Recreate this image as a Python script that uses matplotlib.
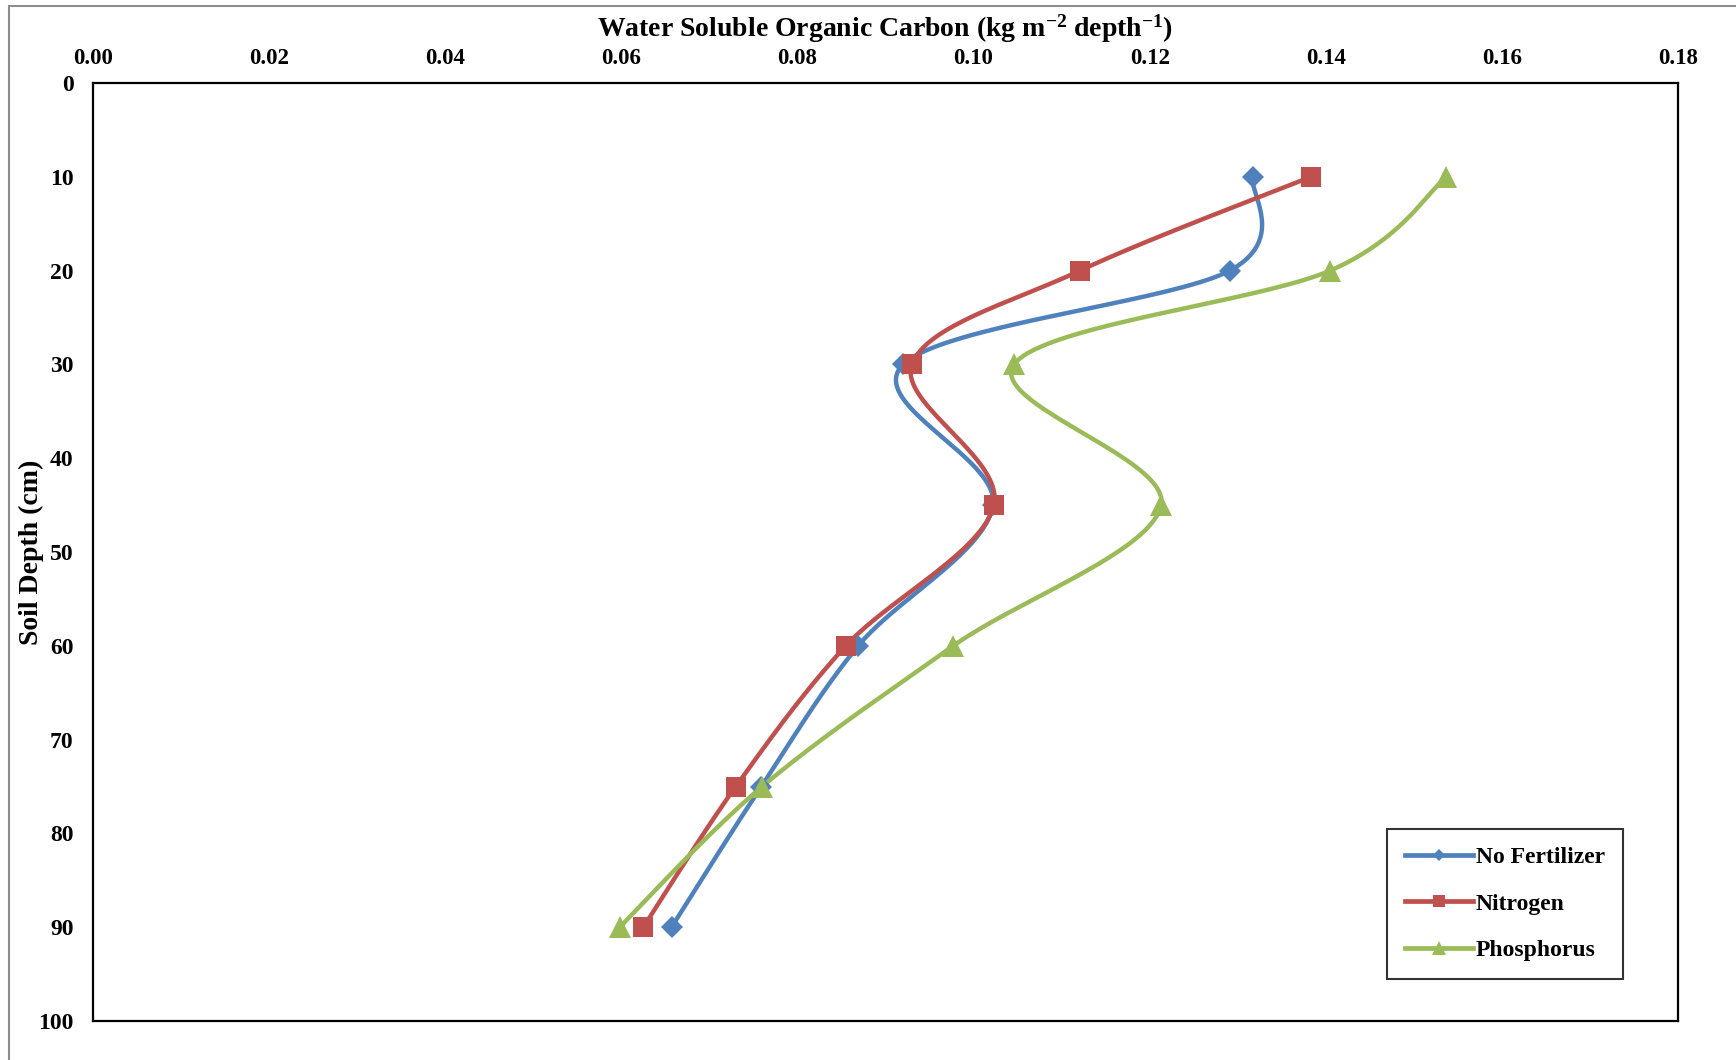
import numpy as np
import matplotlib.pyplot as plt
from matplotlib.patches import Rectangle

# Soil depth (cm) and water soluble organic carbon (kg m-2 depth-1)
depth = [10, 20, 30, 45, 60, 75, 90]
no_fertilizer = [0.1317, 0.1291, 0.0920, 0.1022, 0.0869, 0.0759, 0.0657]
nitrogen = [0.1383, 0.1121, 0.0930, 0.1023, 0.0855, 0.0730, 0.0625]
phosphorus = [0.1537, 0.1405, 0.1046, 0.1213, 0.0977, 0.0760, 0.0598]

x_ticks = np.arange(0, 0.181, 0.02)
y_ticks = np.arange(0, 101, 10)

plt.rcParams['font.family'] = ['Liberation Serif', 'DejaVu Serif']
plt.rcParams['font.weight'] = 'bold'
plt.rcParams['mathtext.default'] = 'regular'

fig = plt.figure(figsize=(17.36, 10.60), dpi=100)
ax = fig.add_axes([93 / 1736, 1 - 1021 / 1060, 1585 / 1736, 938 / 1060])

# outer frame of the chart area
fig.patches.append(Rectangle((9 / 1736, -0.01), 1.1, 1 - 6 / 1060 + 0.01,
                             transform=fig.transFigure, fill=False,
                             edgecolor='#8c8c8c', linewidth=1.5))

W, H = 1585.0, 938.0  # axes size in pixels, used to smooth in screen space


def smooth(xs, ys, n=40):
    # Catmull-Rom style Bezier smoothing, like a spreadsheet "smoothed line"
    p = np.column_stack([np.array(xs) / 0.18 * W, np.array(ys) / 100.0 * H])
    p = np.vstack([p[0], p, p[-1]])
    out = []
    t = np.linspace(0, 1, n)[:, None]
    for i in range(1, len(p) - 2):
        p0, p1, p2, p3 = p[i - 1], p[i], p[i + 1], p[i + 2]
        c1 = p1 + (p2 - p0) / 6.0
        c2 = p2 - (p3 - p1) / 6.0
        seg = ((1 - t) ** 3) * p1 + 3 * ((1 - t) ** 2) * t * c1 \
            + 3 * (1 - t) * t ** 2 * c2 + t ** 3 * p2
        out.append(seg if i == 1 else seg[1:])
    out = np.vstack(out)
    return out[:, 0] / W * 0.18, out[:, 1] / H * 100.0


series = [
    (no_fertilizer, 'No Fertilizer', '#4F81BD', 'D', 11),
    (nitrogen, 'Nitrogen', '#C0504D', 's', 15),
    (phosphorus, 'Phosphorus', '#9BBB59', '^', 16),
]

for vals, name, col, mk, ms in series:
    sx, sy = smooth(vals, depth)
    ax.plot(sx, sy, color=col, linewidth=3.2, solid_capstyle='round', zorder=2)
    ax.plot(vals, depth, linestyle='none', marker=mk, markersize=ms,
            color=col, markeredgewidth=0, zorder=3)
    # proxy for the legend
    ax.plot([], [], color=col, linewidth=3.4, marker=mk, markersize=ms * 0.6,
            markeredgewidth=0, label=name)

ax.set_xlim(0, 0.18)
ax.set_ylim(100, 0)
ax.set_xticks(x_ticks)
ax.set_xticklabels([f'{v:.2f}' for v in x_ticks])
ax.set_yticks(y_ticks)
ax.xaxis.tick_top()
ax.xaxis.set_label_position('top')
ax.tick_params(axis='both', length=0)
ax.tick_params(axis='x', pad=10, labelsize=16.5)
ax.tick_params(axis='y', pad=14, labelsize=17)

ax.set_xlabel(r'Water Soluble Organic Carbon (kg m$^{-2}$ depth$^{-1}$)',
              fontsize=20, fontweight='bold', labelpad=8)
ax.set_ylabel('Soil Depth (cm)', fontsize=20, fontweight='bold')
ax.yaxis.set_label_coords(-0.031, 0.5)

for s in ax.spines.values():
    s.set_linewidth(1.6)
    s.set_color('black')

leg = ax.legend(loc='lower right', bbox_to_anchor=(0.965, 0.045),
                borderaxespad=0, fontsize=17, frameon=True, fancybox=False,
                edgecolor='black', handlelength=2.9, labelspacing=1.05,
                borderpad=0.75, handletextpad=0.1)
leg.get_frame().set_linewidth(1.5)

plt.savefig('out.png', dpi=100)
plt.close()
